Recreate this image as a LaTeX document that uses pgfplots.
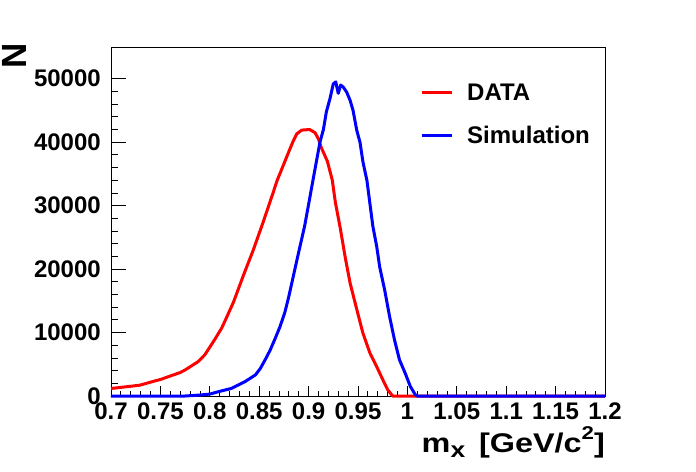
\documentclass[border=0pt]{standalone}
\usepackage{pgfplots}
\pgfplotsset{compat=1.18}
\usepackage{fontspec}
\setmainfont{Liberation Sans}
\begin{document}
\begin{tikzpicture}
\path[use as bounding box] (-111bp,-76bp) rectangle (585bp,396bp);
\begin{axis}[
  scale only axis, width=494bp, height=349bp,
  xmin=0.7, xmax=1.2, ymin=0, ymax=55000,
  clip=false,
  axis line style={line width=0.8bp},
  tick align=inside, xtick pos=bottom, ytick pos=left,
  xtick={0.7,0.75,0.8,0.85,0.9,0.95,1,1.05,1.1,1.15,1.2},
  xticklabels={0.7,0.75,0.8,0.85,0.9,0.95,1,1.05,1.1,1.15,1.2},
  ytick={0,10000,20000,30000,40000,50000},
  yticklabels={0,10000,20000,30000,40000,50000},
  minor x tick num=4, minor y tick num=4,
  scaled y ticks=false,
  /pgf/number format/assume math mode=true,
  /pgf/number format/1000 sep={},
  xtick style={line width=0.8bp, black, /pgfplots/major tick length=10.5bp, /pgfplots/minor tick length=5.3bp},
  ytick style={line width=0.8bp, black, /pgfplots/major tick length=14.8bp, /pgfplots/minor tick length=7.4bp},
  ticklabel style={font=\fontsize{24bp}{28bp}\selectfont\bfseries},
  xticklabel style={inner sep=0pt, anchor=north, yshift=-7bp},
  yticklabel style={inner sep=0pt, anchor=east, xshift=-10bp},
  xlabel={\scalebox{1.2}[1]{m\raisebox{-5bp}{\fontsize{22bp}{22bp}\selectfont x}\hspace{4bp} [GeV/c\raisebox{13bp}{\fontsize{18.5bp}{18.5bp}\selectfont 2}]}},
  xlabel style={at={(rel axis cs:1,-0.16046)}, anchor=base east, inner sep=0pt, font=\fontsize{27bp}{30bp}\selectfont\bfseries},
  ylabel={N},
  ylabel style={at={(rel axis cs:-0.17105,1.01146)}, anchor=base east, inner sep=0pt, font=\fontsize{35bp}{38bp}\selectfont\bfseries},
  legend style={at={(rel axis cs:0.6255,0.8954)}, anchor=north west, draw=none, fill=none, inner sep=0pt,
    row sep=26bp, column sep=14bp,
    font=\fontsize{24bp}{28bp}\selectfont\bfseries,
    nodes={inner sep=0pt, text height=17bp, text depth=0bp}},
  legend cell align=left,
  legend image code/.code={\draw[#1] (0bp,0bp) -- (30bp,0bp);},
]
\addplot[sharp plot, red, line width=3bp, line join=round] table {
x y
0.700 1200
0.704 1250
0.729 1700
0.745 2400
0.750 2600
0.770 3700
0.775 4100
0.788 5400
0.795 6500
0.805 8900
0.812 10700
0.815 11700
0.824 14800
0.829 16900
0.834 19000
0.839 21000
0.844 23000
0.849 25200
0.854 27400
0.859 29700
0.864 32000
0.868 33900
0.874 36200
0.881 38900
0.8845 40200
0.888 41300
0.893 41900
0.901 42000
0.9065 41500
0.910 40500
0.913 39100
0.919 37000
0.924 34000
0.927 30600
0.932 26500
0.937 21900
0.942 17800
0.949 13500
0.955 9900
0.962 6800
0.969 4600
0.975 2600
0.980 1000
0.985 0
1.200 0
};
\addlegendentry{DATA}
\addplot[sharp plot, blue, line width=3bp, line join=round] table {
x y
0.700 0
0.775 0
0.790 150
0.800 300
0.808 650
0.822 1200
0.836 2300
0.846 3300
0.851 4300
0.856 5700
0.861 7200
0.866 9000
0.871 10900
0.876 13200
0.880 15700
0.883 17800
0.889 22000
0.896 26800
0.900 30200
0.905 34500
0.9115 40000
0.915 42000
0.918 44800
0.9217 46900
0.925 49200
0.9275 49500
0.930 47700
0.9325 49000
0.935 48700
0.9385 47900
0.942 46600
0.945 45000
0.9487 41900
0.952 40000
0.955 36900
0.959 34000
0.962 30400
0.965 26800
0.969 23500
0.972 20300
0.977 16700
0.982 12500
0.987 8800
0.992 5700
0.998 3500
1.003 1500
1.008 200
1.010 0
1.200 0
};
\addlegendentry{Simulation}
\end{axis}
\end{tikzpicture}
\end{document}
